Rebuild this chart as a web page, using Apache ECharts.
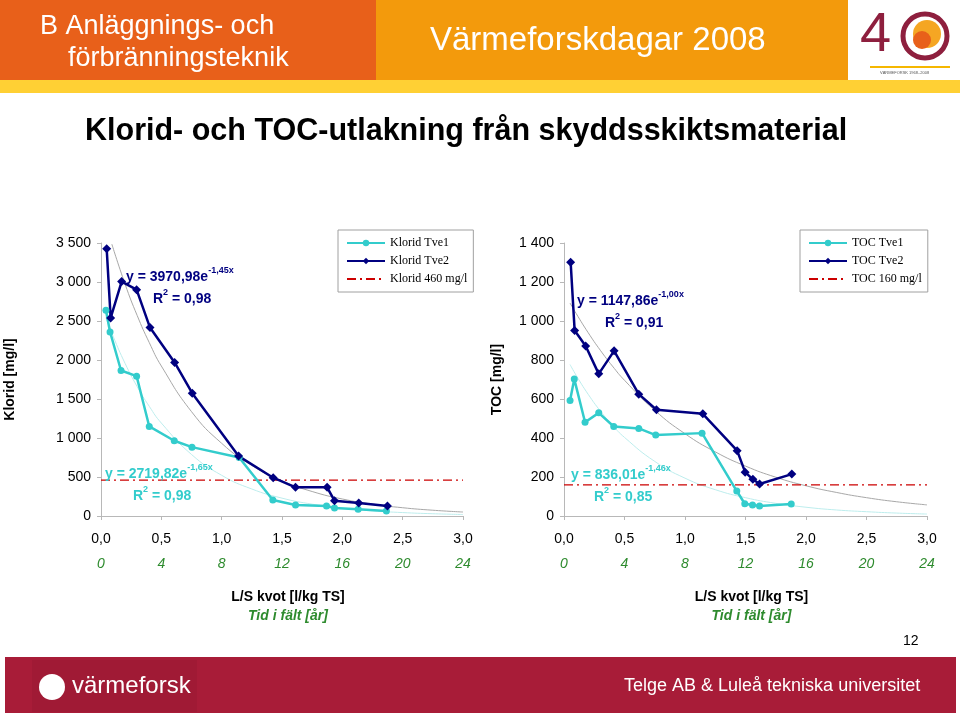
<!DOCTYPE html>
<html><head><meta charset="utf-8">
<script src="https://cdn.jsdelivr.net/npm/echarts@6/dist/echarts.min.js"></script>
<style>html,body{margin:0;padding:0;background:#fff;}#c{width:960px;height:716px;}</style>
</head><body><div id="c"></div>
<script>
// ---------- DATA ----------
const xTicksLS = [0, 0.5, 1, 1.5, 2, 2.5, 3];
const yearTicks = [0, 4, 8, 12, 16, 20, 24];

// Klorid Tve1
const klTve1X = [0.041, 0.075, 0.166, 0.295, 0.400, 0.607, 0.754, 1.145, 1.424, 1.612, 1.869, 1.935, 2.131, 2.365];
const klTve1Y = [2638, 2360, 1865, 1793, 1148, 965, 883, 751, 205, 141, 128, 102, 85, 64];
// Klorid Tve2
const klTve2X = [0.047, 0.080, 0.171, 0.295, 0.406, 0.610, 0.756, 1.140, 1.427, 1.612, 1.874, 1.935, 2.136, 2.374];
const klTve2Y = [3427, 2540, 3005, 2902, 2416, 1968, 1575, 768, 491, 367, 367, 196, 166, 128];
// Klorid trend curves
const klTrend2X = [0.09, 0.2, 0.3, 0.4, 0.5, 0.75, 1.0, 1.25, 1.5, 1.75, 2.0, 2.25, 2.5, 2.75, 3.0];
const klTrend2Y = [3485, 2971, 2570, 2223, 1923, 1338, 932, 648, 451, 314, 218, 152, 106, 74, 51];
const klTrend1X = [0.04, 0.1, 0.2, 0.3, 0.4, 0.5, 0.75, 1.0, 1.25, 1.5, 1.75, 2.0, 2.25, 2.5, 2.75, 3.0];
const klTrend1Y = [2546, 2306, 1955, 1658, 1406, 1192, 789, 522, 346, 229, 152, 100, 66, 44, 29, 19];
const klLimit = 460;

// TOC Tve1
const tocTve1X = [0.050, 0.085, 0.174, 0.287, 0.411, 0.618, 0.758, 1.141, 1.428, 1.494, 1.558, 1.616, 1.878];
const tocTve1Y = [592, 702, 481, 529, 459, 449, 415, 425, 128, 63, 56, 51, 61];
// TOC Tve2
const tocTve2X = [0.055, 0.088, 0.179, 0.287, 0.414, 0.618, 0.764, 1.147, 1.431, 1.497, 1.561, 1.616, 1.883];
const tocTve2Y = [1301, 951, 872, 729, 847, 625, 545, 524, 335, 225, 188, 164, 215];
// TOC trend curves
const tocTrend2X = [0.05, 0.1, 0.2, 0.3, 0.4, 0.5, 0.75, 1.0, 1.25, 1.5, 1.75, 2.0, 2.25, 2.5, 2.75, 3.0];
const tocTrend2Y = [1092, 1039, 940, 850, 769, 696, 542, 422, 329, 256, 199, 155, 121, 94, 73, 57];
const tocTrend1X = [0.05, 0.1, 0.2, 0.3, 0.4, 0.5, 0.75, 1.0, 1.25, 1.5, 1.75, 2.0, 2.25, 2.5, 2.75, 3.0];
const tocTrend1Y = [777, 722, 624, 539, 466, 403, 280, 194, 135, 94, 65, 45, 31, 22, 15, 10];
const tocLimit = 160;

// ---------- HELPERS ----------
const zip = (xs, ys) => xs.map((x, i) => [x, ys[i]]);
const fmtThousand = v => String(v).replace(/\B(?=(\d{3})+(?!\d))/g, ' ');
const fmtDec = v => v.toFixed(1).replace('.', ',');
const SANS = 'Liberation Sans, Arial, sans-serif';
const SERIF = 'Liberation Serif, Times New Roman, serif';
const CYAN = '#33CCCC', NAVY = '#000080', GRAY = '#A8A8A8', LCYAN = '#BDEDED', RED = '#CC0000';
const AXC = '#B8B8B8';

function mainX(gi) {
  return {
    type: 'value', gridIndex: gi, min: 0, max: 3, interval: 0.5,
    axisLine: { lineStyle: { color: AXC } },
    axisTick: { length: 4, lineStyle: { color: AXC } },
    splitLine: { show: false },
    axisLabel: { formatter: fmtDec, color: '#000', fontFamily: SANS, fontSize: 14, margin: 16 },
    name: 'L/S kvot [l/kg TS]', nameLocation: 'middle', nameGap: 74,
    nameTextStyle: { fontFamily: SANS, fontSize: 14, fontWeight: 'bold', color: '#000', padding: [0, 0, 0, 12] }
  };
}
function yearX(gi) {
  return {
    type: 'value', gridIndex: gi, min: 0, max: 24, interval: 4, position: 'bottom', offset: 25,
    axisLine: { show: false }, axisTick: { show: false }, splitLine: { show: false },
    axisLabel: { color: '#2E8B2E', fontStyle: 'italic', fontFamily: SANS, fontSize: 14, margin: 16 },
    name: 'Tid i fält [år]', nameLocation: 'middle', nameGap: 68,
    nameTextStyle: { fontFamily: SANS, fontSize: 14, fontWeight: 'bold', fontStyle: 'italic', color: '#2E8B2E', padding: [0, 0, 0, 12] }
  };
}
function yAx(gi, max, interval, name, gap) {
  return {
    type: 'value', gridIndex: gi, min: 0, max: max, interval: interval,
    axisLine: { show: true, lineStyle: { color: AXC } },
    axisTick: { show: true, length: 4, lineStyle: { color: AXC } },
    splitLine: { show: false },
    axisLabel: { formatter: fmtThousand, color: '#000', fontFamily: SANS, fontSize: 14, margin: 10 },
    name: name, nameLocation: 'middle', nameGap: gap, nameRotate: 90,
    nameTextStyle: { fontFamily: SANS, fontSize: 14, fontWeight: 'bold', color: '#000' }
  };
}
function dataSeries(name, xi, yi, xs, ys, color, symbol, size) {
  return { name, type: 'line', xAxisIndex: xi, yAxisIndex: yi, data: zip(xs, ys),
    symbol, symbolSize: size, showSymbol: true, z: 5,
    lineStyle: { color, width: 2.5 }, itemStyle: { color } };
}
function trendSeries(xi, yi, xs, ys, color) {
  return { type: 'line', xAxisIndex: xi, yAxisIndex: yi, data: zip(xs, ys), smooth: true,
    symbol: 'none', silent: true, z: 2, lineStyle: { color, width: 1 } };
}
function limitSeries(name, xi, yi, val) {
  return { name, type: 'line', xAxisIndex: xi, yAxisIndex: yi, data: [[0, val], [3, val]],
    symbol: 'none', z: 3, lineStyle: { color: RED, width: 1.2, type: [9, 4, 2, 4] }, itemStyle: { color: RED } };
}
function legendAt(left, names) {
  return { orient: 'vertical', left, top: 230,
    data: [names[0], names[1], { name: names[2], itemStyle: { opacity: 0 } }],
    itemWidth: 38, itemHeight: 8, itemGap: 6,
    padding: [7, 6, 7, 8], borderColor: '#A0A0A0', borderWidth: 1, backgroundColor: '#fff', borderRadius: 0,
    textStyle: { fontFamily: SERIF, fontSize: 12, color: '#000' } };
}
function eqText(x, y, main, sup, color) {
  return { type: 'text', left: x, top: y - 9, z: 20, style: {
    text: '{m|' + main + '}{s|' + sup + '}', fill: color,
    rich: { m: { fontFamily: SANS, fontSize: 14, fontWeight: 'bold', fill: color, lineHeight: 18, verticalAlign: 'bottom' },
            s: { fontFamily: SANS, fontSize: 9, fontWeight: 'bold', fill: color, lineHeight: 18, verticalAlign: 'top' } } } };
}
function r2Text(x, y, val, color) {
  return { type: 'text', left: x, top: y - 9, z: 20, style: {
    text: '{m|R}{s|2}{m| = ' + val + '}', fill: color,
    rich: { m: { fontFamily: SANS, fontSize: 14, fontWeight: 'bold', fill: color, lineHeight: 18, verticalAlign: 'bottom' },
            s: { fontFamily: SANS, fontSize: 9, fontWeight: 'bold', fill: color, lineHeight: 18, verticalAlign: 'top' } } } };
}

const chart = echarts.init(document.getElementById('c'), null, { renderer: 'canvas' });
const option = {
  backgroundColor: '#fff',
  animation: false,
  grid: [
    { left: 101, top: 243, width: 362, height: 273 },
    { left: 564, top: 243, width: 363, height: 273 }
  ],
  xAxis: [mainX(0), yearX(0), mainX(1), yearX(1)],
  yAxis: [yAx(0, 3500, 500, 'Klorid [mg/l]', 84), yAx(1, 1400, 200, 'TOC [mg/l]', 60)],
  legend: [
    legendAt(338, ['Klorid Tve1', 'Klorid Tve2', 'Klorid 460 mg/l']),
    legendAt(800, ['TOC Tve1', 'TOC Tve2', 'TOC 160 mg/l'])
  ],
  series: [
    trendSeries(0, 0, klTrend2X, klTrend2Y, GRAY),
    trendSeries(0, 0, klTrend1X, klTrend1Y, LCYAN),
    limitSeries('Klorid 460 mg/l', 0, 0, klLimit),
    dataSeries('Klorid Tve1', 0, 0, klTve1X, klTve1Y, CYAN, 'circle', 7),
    dataSeries('Klorid Tve2', 0, 0, klTve2X, klTve2Y, NAVY, 'diamond', 9),
    trendSeries(2, 1, tocTrend2X, tocTrend2Y, GRAY),
    trendSeries(2, 1, tocTrend1X, tocTrend1Y, LCYAN),
    limitSeries('TOC 160 mg/l', 2, 1, tocLimit),
    dataSeries('TOC Tve1', 2, 1, tocTve1X, tocTve1Y, CYAN, 'circle', 7),
    dataSeries('TOC Tve2', 2, 1, tocTve2X, tocTve2Y, NAVY, 'diamond', 9)
  ],
  graphic: [
    // header
    { type: 'rect', shape: { x: 0, y: 0, width: 376, height: 80 }, style: { fill: '#E8601A' }, z: 0 },
    { type: 'rect', shape: { x: 376, y: 0, width: 472, height: 80 }, style: { fill: '#F39A0C' }, z: 0 },
    { type: 'rect', shape: { x: 0, y: 80, width: 960, height: 13 }, style: { fill: '#FFD034' }, z: 0 },
    { type: 'text', left: 40, top: 13, style: { text: 'B Anläggnings- och', fill: '#fff', font: '27px ' + SANS } },
    { type: 'text', left: 68, top: 45, style: { text: 'förbränningsteknik', fill: '#fff', font: '27px ' + SANS } },
    { type: 'text', left: 430, top: 24, style: { text: 'Värmeforskdagar 2008', fill: '#fff', font: '33px ' + SANS } },
    // 40 logo
    { type: 'text', left: 860, top: 8, style: { text: '4', fill: '#8E1F3E', font: '56px ' + SANS } },
    { type: 'circle', shape: { cx: 925, cy: 36, r: 22 }, style: { fill: 'none', stroke: '#8E1F3E', lineWidth: 5 } },
    { type: 'circle', shape: { cx: 927, cy: 34, r: 14 }, style: { fill: '#F5A623' } },
    { type: 'circle', shape: { cx: 922, cy: 40, r: 9 }, style: { fill: '#E8601A' } },
    { type: 'rect', shape: { x: 870, y: 66, width: 80, height: 2 }, style: { fill: '#F5B700' } },
    { type: 'text', left: 880, top: 71, style: { text: 'VÄRMEFORSK 1968–2008', fill: '#555', font: '4px ' + SANS } },
    // title
    { type: 'text', left: 85, top: 116, style: { text: 'Klorid- och TOC-utlakning från skyddsskiktsmaterial', fill: '#000', font: 'bold 30.5px ' + SANS } },
    // equations
    eqText(126, 275, 'y = 3970,98e', '-1,45x', NAVY),
    r2Text(153, 297, '0,98', NAVY),
    eqText(105, 472, 'y = 2719,82e', '-1,65x', CYAN),
    r2Text(133, 494, '0,98', CYAN),
    eqText(577, 299, 'y = 1147,86e', '-1,00x', NAVY),
    r2Text(605, 321, '0,91', NAVY),
    eqText(571, 473, 'y = 836,01e', '-1,46x', CYAN),
    r2Text(594, 495, '0,85', CYAN),
    // page number
    { type: 'text', left: 903, top: 634, style: { text: '12', fill: '#000', font: '14px ' + SANS } },
    // footer
    { type: 'rect', shape: { x: 5, y: 657, width: 951, height: 56 }, style: { fill: '#A81C38' }, z: 0 },
    { type: 'rect', shape: { x: 32, y: 660, width: 165, height: 52 }, style: { fill: '#A01A35' }, z: 0 },
    { type: 'circle', shape: { cx: 52, cy: 687, r: 13 }, style: { fill: '#fff' } },
    { type: 'text', left: 72, top: 674, style: { text: 'värmeforsk', fill: '#fff', font: '24px ' + SANS } },
    { type: 'text', left: 624, top: 677, style: { text: 'Telge AB & Luleå tekniska universitet', fill: '#fff', font: '18px ' + SANS } }
  ]
};
chart.setOption(option);
</script>
</body></html>
